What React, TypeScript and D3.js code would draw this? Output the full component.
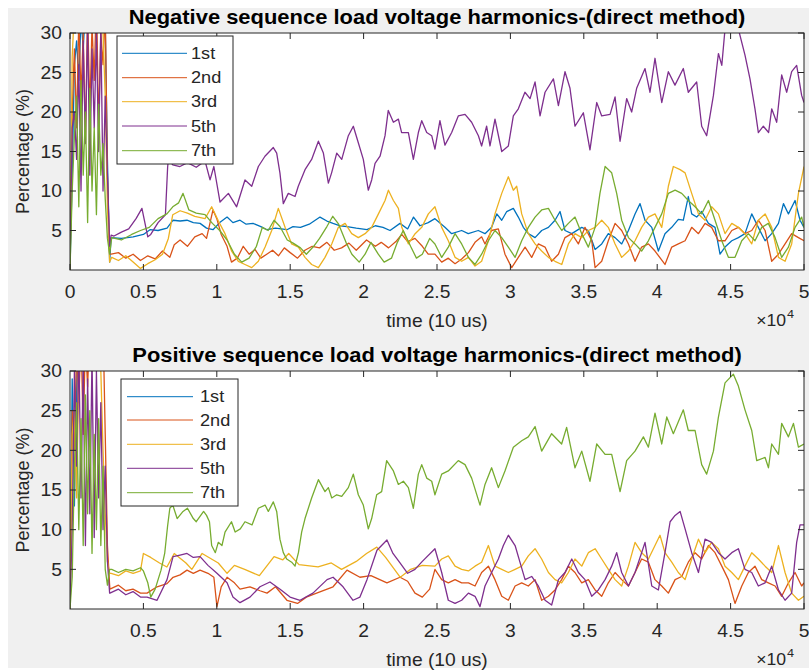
import React from 'react';
import * as d3 from 'd3';

// ---------------- DATA ----------------
const seriesNames = ['1st', '2nd', '3rd', '5th', '7th'];
const seriesColors = ['#0072BD', '#D95319', '#EDB120', '#7E2F8E', '#77AC30'];

const xTicksTop = [0, 5000, 10000, 15000, 20000, 25000, 30000, 35000, 40000, 45000, 50000];
const xTicksBottom = [5000, 10000, 15000, 20000, 25000, 30000, 35000, 40000, 45000, 50000];
const yTicks = [5, 10, 15, 20, 25, 30];

const titleTop = 'Negative sequence load voltage harmonics-(direct method)';
const titleBottom = 'Positive sequence load voltage harmonics-(direct method)';
const yLabel = 'Percentage (%)';
const xLabel = 'time (10 us)';

// start-up transient (both plots share this time grid)
const transientTime = [0, 150, 300, 450, 600, 750, 900, 1050, 1200, 1350, 1500, 1650, 1800, 1950, 2100, 2250, 2400, 2550, 2700];

const negTr1 = [0, 12, 26, 29, 24, 32, 28, 33, 31, 34, 30, 35, 32, 34, 33, 36, 31, 14, 1];
const negTr2 = [0, 20, 28, 18, 32, 22, 30, 16, 33, 20, 31, 24, 35, 18, 30, 26, 33, 12, 2];
const negTr3 = [0, 27, 33, 35, 34, 31, 36, 34, 32, 35, 33, 36, 34, 35, 33, 30, 22, 8, 1];
const negTr5 = [0, 18, 20, 14, 26, 10, 29, 16, 31, 12, 28, 18, 30, 15, 31, 10, 22, 12, 3];
const negTr7 = [0, 10, 17, 22, 8, 24, 12, 20, 6, 23, 10, 18, 7, 21, 12, 16, 9, 4, 2];

const posTr1 = [0, 29, 13, 27, 45, 100, 100, 100, 100, 100, 100, 100, 100, 100, 100, 100, 100, 100, 100];
const posTr2 = [0, 25, 20, 33, 26, 35, 22, 34, 28, 36, 30, 35, 33, 36, 34, 36, 22, 8, 3];
const posTr3 = [0, 22, 25, 14, 30, 33, 35, 34, 36, 33, 35, 36, 34, 35, 30, 20, 12, 6, 4.5];
const posTr5 = [0, 10, 30, 18, 33, 14, 31, 8, 29, 12, 32, 9, 30, 14, 26, 10, 18, 6, 2];
const posTr7 = [0, 4, 18, 26, 10, 24, 8, 27, 12, 25, 7, 22, 10, 24, 8, 18, 5, 3, 5];

// after the transient: [time, percentage]
const neg1: [number, number][] = [[2800,4.1],[3500,4.0],[4300,4.2],[5000,4.5],[5450,5.1],[6000,5.0],[6610,5.3],[7020,6.3],[7500,6.2],[7970,6.3],[8400,6.0],[8860,5.9],[9300,5.3],[9740,5.1],[10200,6.0],[10700,6.7],[11100,6.0],[11580,6.3],[12000,5.8],[12470,5.9],[13000,5.5],[13420,5.1],[14000,5.3],[14780,5.1],[15190,5.5],[15700,5.4],[16300,5.8],[17030,6.7],[17500,6.2],[17920,5.9],[18400,5.6],[18870,5.5],[19500,5.3],[20230,5.1],[20800,5.6],[21320,5.4],[21800,5.0],[22480,5.9],[23000,5.2],[23400,6.7],[23840,5.6],[24400,6.0],[24860,6.5],[25540,5.4],[26000,4.6],[26680,5.0],[27130,4.6],[27810,5.0],[28270,4.6],[28720,5.4],[29070,7.1],[29410,6.3],[29750,7.4],[30200,7.8],[30540,6.7],[30880,5.4],[31220,4.6],[31680,4.1],[32130,5.0],[32590,5.4],[33040,6.3],[33380,7.4],[33720,5.0],[34180,4.6],[34860,5.4],[35310,5.0],[35770,2.6],[36220,3.3],[36670,4.6],[37130,4.1],[37580,3.3],[38040,5.0],[38490,7.1],[38830,8.4],[39170,6.3],[39630,5.4],[40080,2.4],[40530,4.6],[40990,5.4],[41440,6.4],[41780,6.3],[42120,9.3],[42350,7.1],[42690,6.7],[43030,7.4],[43490,5.9],[43940,5.4],[44280,2.0],[44620,2.9],[45080,3.7],[45530,4.1],[45980,4.6],[46440,7.1],[46890,5.4],[47350,3.7],[47800,4.6],[48260,5.9],[48600,8.4],[48940,7.1],[49390,8.8],[49730,6.3],[50000,5.4]];

const neg2: [number, number][] = [[2800,2.0],[3300,2.2],[3800,1.5],[4300,2.0],[4800,1.2],[5300,1.8],[5800,1.4],[6300,2.4],[6800,1.6],[7100,3.2],[7500,3.8],[8000,3.0],[8500,4.2],[9000,4.6],[9300,4.0],[9740,7.6],[10000,6.5],[10300,4.5],[10700,3.0],[11000,1.0],[11400,1.5],[11800,3.0],[12200,2.0],[12600,2.6],[13000,1.5],[13400,2.0],[13800,2.5],[14200,1.8],[14600,2.8],[15000,2.2],[15500,1.5],[16000,2.5],[16500,3.0],[17000,2.8],[17500,3.5],[18000,2.5],[18500,2.8],[19000,3.4],[19500,2.5],[20200,3.8],[20800,3.0],[21200,3.5],[21700,2.8],[22200,3.6],[22600,4.5],[23000,3.6],[23500,4.0],[24000,3.0],[24400,2.0],[24860,2.0],[25320,1.0],[25770,1.5],[26230,0.8],[26680,1.4],[27140,2.2],[27590,3.5],[28040,4.2],[28270,3.3],[28720,5.0],[29180,5.2],[29630,2.0],[30090,0.3],[30540,1.6],[31000,2.9],[31450,1.6],[31900,3.3],[32360,2.9],[32810,1.1],[33270,2.0],[33720,4.1],[34180,4.6],[34630,3.3],[35080,5.4],[35540,3.7],[35770,0.3],[36220,1.1],[36670,3.7],[37130,5.9],[37580,5.0],[38040,3.3],[38490,1.1],[38940,2.9],[39400,3.3],[39850,2.4],[40530,0.7],[40990,2.9],[41440,3.3],[41900,3.7],[42350,5.4],[42810,4.6],[43260,5.9],[43710,5.4],[44170,3.7],[44620,3.7],[45080,5.0],[45530,5.4],[45980,4.6],[46440,5.0],[46890,6.3],[47350,5.0],[47800,1.1],[48260,2.0],[48710,3.3],[49160,4.6],[49620,4.1],[50000,3.7]];

const neg3: [number, number][] = [[2840,1.6],[3300,1.2],[3800,1.8],[4300,1.0],[4800,0.2],[5300,0.8],[5800,1.3],[6300,2.0],[6700,4.0],[7000,7.0],[7500,7.5],[8000,7.2],[8500,6.8],[9200,6.5],[9650,8.0],[10110,6.2],[10560,4.6],[11010,2.4],[11470,1.1],[11920,0.7],[12380,0.3],[12830,1.1],[13290,2.9],[13740,5.0],[14190,7.8],[14650,5.4],[15100,3.3],[15560,2.9],[16010,1.6],[16460,0.7],[16920,0.3],[17370,1.6],[17830,3.3],[18280,5.4],[18740,5.9],[19190,4.6],[19640,4.1],[20100,4.6],[20550,5.4],[21010,7.1],[21460,8.8],[21690,10.1],[22030,8.8],[22370,7.8],[22600,5.4],[23050,3.3],[23510,4.6],[23960,5.4],[24410,7.1],[24860,8.0],[25320,5.4],[25770,3.7],[26230,1.6],[26680,1.1],[27140,1.6],[27590,0.5],[28040,1.1],[28500,3.7],[28950,7.1],[29410,9.7],[29860,11.8],[30200,10.1],[30430,10.6],[30770,7.1],[31220,4.6],[31680,3.3],[32130,2.4],[32590,1.6],[33040,1.1],[33500,0.7],[33950,3.3],[34400,4.6],[34860,4.1],[35310,5.0],[35770,5.4],[36220,6.3],[36670,5.4],[37130,3.3],[37580,1.6],[38040,2.4],[38490,3.7],[38940,5.4],[39400,6.7],[39850,7.1],[40310,5.4],[40760,10.6],[41100,13.1],[41560,12.7],[41900,12.3],[42350,9.7],[42810,7.1],[43260,6.3],[43710,8.0],[44170,7.1],[44620,4.6],[45080,5.9],[45530,5.4],[45980,4.6],[46440,3.3],[46890,6.3],[47350,7.1],[47800,5.4],[48260,1.6],[48710,1.1],[49160,3.3],[49620,9.7],[50000,13.1]];

const neg5: [number, number][] = [[2800,4.4],[3000,4.3],[3500,4.8],[4000,5.2],[4500,6.5],[4900,7.8],[5300,4.2],[5500,4.5],[6000,6.0],[6500,7.0],[6650,13.0],[6700,14.0],[7000,13.3],[7490,13.1],[8000,13.6],[8600,13.0],[9200,13.8],[9540,11.4],[9800,13.1],[10220,8.6],[10790,9.7],[11350,8.0],[11920,11.4],[12380,10.6],[12830,13.1],[13280,14.4],[13850,15.5],[14080,14.8],[14300,12.3],[14530,8.4],[14870,9.7],[15330,9.3],[15550,10.6],[16010,12.7],[16460,14.0],[16920,16.3],[17260,14.8],[17600,11.0],[17820,12.3],[18170,14.8],[18510,14.0],[18960,17.0],[19300,18.2],[19640,16.1],[19980,14.0],[20320,10.1],[20550,11.4],[20780,13.5],[21120,14.4],[21460,17.0],[21680,20.2],[22030,18.7],[22370,19.1],[22590,17.4],[23050,17.4],[23390,14.0],[23730,17.4],[23960,18.9],[24300,17.4],[24640,17.0],[24860,15.3],[25200,18.9],[25540,15.8],[26000,17.4],[26450,19.5],[26910,19.7],[27360,18.7],[27820,17.0],[28040,15.7],[28380,18.2],[28610,15.7],[28950,19.1],[29410,15.0],[29860,15.7],[30200,19.5],[30540,20.4],[30990,22.5],[31340,21.7],[31680,23.8],[32020,19.5],[32360,22.5],[32930,24.2],[33270,20.8],[33720,25.1],[34060,23.0],[34400,18.2],[34970,19.9],[35420,15.2],[35880,21.2],[36220,19.5],[36790,19.7],[37130,21.9],[37470,16.3],[37920,21.7],[38260,20.0],[38600,23.0],[39170,25.5],[39510,22.5],[39850,26.8],[40310,21.2],[40760,25.1],[41210,23.4],[41780,25.5],[42120,22.5],[42690,23.8],[43030,18.2],[43370,17.0],[43830,22.1],[44170,27.4],[44400,25.9],[44620,30.5],[45000,32.0],[45530,30.5],[45980,27.2],[46320,24.2],[46660,20.4],[46890,17.4],[47230,18.2],[47590,17.4],[47800,20.4],[48140,18.7],[48480,24.7],[48820,22.5],[49160,25.1],[49500,25.9],[49840,22.1],[50000,21.2]];

const neg7: [number, number][] = [[2840,4.1],[3500,3.8],[4200,4.5],[4800,5.0],[5400,5.4],[6000,6.5],[6600,7.1],[7000,8.0],[7400,8.5],[7700,9.7],[8100,7.6],[8600,7.2],[9200,7.0],[9700,5.9],[10200,5.0],[10700,3.8],[11200,2.0],[11700,1.0],[12200,1.5],[12700,3.0],[13100,5.4],[13500,5.0],[13900,6.3],[14300,5.5],[14800,3.8],[15200,3.4],[15700,2.8],[16100,2.0],[16600,3.0],[17000,4.0],[17500,5.5],[17900,6.8],[18300,5.8],[18800,3.5],[19200,2.0],[19700,1.0],[20100,2.0],[20500,3.5],[21000,2.0],[21400,1.0],[21900,1.5],[22300,3.5],[22700,5.0],[23200,3.0],[23600,1.5],[24000,2.0],[24500,4.0],[24860,3.3],[25320,1.6],[25770,2.9],[26230,4.6],[26680,3.3],[27140,1.6],[27590,0.7],[28040,2.0],[28500,3.7],[28950,5.0],[29410,4.1],[29860,2.9],[30320,1.6],[30770,3.7],[31220,5.4],[31680,6.7],[32130,7.6],[32590,7.8],[33040,6.3],[33500,5.0],[33950,5.9],[34400,6.7],[34860,4.6],[35310,2.9],[35770,5.4],[36100,9.7],[36450,13.1],[36900,12.3],[37240,9.7],[37580,6.3],[38040,4.1],[38490,3.3],[38940,2.4],[39400,3.7],[39850,5.4],[40310,7.1],[40760,9.7],[41220,10.1],[41670,9.7],[42120,8.8],[42580,8.0],[43030,7.1],[43490,8.8],[43940,6.3],[44400,3.7],[44850,1.6],[45300,1.6],[45760,3.7],[46210,4.6],[46660,3.7],[47120,5.4],[47570,5.9],[48030,4.1],[48480,1.6],[48940,2.9],[49390,5.4],[49840,6.7],[50000,5.4]];

const pos1: [number, number][] = [[2800,100],[50000,100]];

const pos2: [number, number][] = [[2720,2.5],[3300,3.0],[3800,2.3],[4290,2.5],[4800,2.0],[5250,2.0],[5930,2.8],[6610,3.2],[7020,4.0],[7500,4.3],[7970,4.9],[8400,4.5],[8860,4.9],[9400,4.5],[9800,4.0],[10010,0.3],[10300,2.8],[10700,4.0],[11200,3.3],[11580,2.5],[12260,2.8],[12940,2.3],[13420,2.0],[14000,2.8],[14780,1.1],[15500,0.7],[16100,1.5],[16800,2.0],[17920,2.8],[18870,4.9],[19750,4.0],[20500,4.2],[21590,3.3],[22480,4.0],[23000,3.5],[23500,2.0],[24000,1.5],[24500,2.5],[24860,5.0],[25320,3.7],[25770,3.3],[26230,3.7],[26680,3.3],[27140,3.3],[27590,2.9],[28040,4.6],[28500,5.4],[28950,3.7],[29410,1.6],[29860,1.1],[30320,2.9],[30770,3.3],[31220,2.9],[31680,3.7],[32130,1.1],[32590,1.6],[33040,2.4],[33490,3.7],[33950,5.4],[34400,4.6],[34860,3.3],[35310,3.7],[35770,2.4],[36220,1.6],[36670,3.3],[37130,4.6],[37580,3.7],[38040,2.9],[38490,4.6],[38940,6.3],[39400,5.9],[39850,3.7],[40310,2.9],[40760,2.0],[41220,3.7],[41670,4.1],[42120,5.9],[42580,7.1],[43030,6.3],[43490,8.0],[43940,7.1],[44400,5.4],[44850,3.7],[45300,0.7],[45760,2.9],[46210,4.6],[46660,5.4],[47120,3.7],[47570,3.3],[48030,2.9],[48480,1.6],[48940,3.3],[49390,4.6],[49840,2.9],[50000,3.3]];

const pos3: [number, number][] = [[2800,4.5],[3300,4.2],[3800,4.8],[4300,4.5],[4800,4.8],[5000,7.0],[5500,6.5],[6100,5.8],[6600,5.3],[7100,7.0],[7900,5.8],[8300,5.0],[9000,7.0],[10100,5.8],[10700,4.5],[11200,5.5],[11900,5.0],[12900,4.2],[13900,6.6],[14500,6.2],[14900,7.0],[15600,5.6],[16900,5.3],[17800,5.8],[18500,5.0],[19500,6.0],[20200,7.0],[20900,7.8],[21500,6.5],[22500,4.0],[23200,5.0],[24000,5.5],[24860,5.4],[25320,6.3],[25770,6.7],[26230,5.4],[26680,5.0],[27140,4.8],[27590,5.4],[28040,5.9],[28500,8.0],[28950,5.4],[29410,5.0],[29860,4.6],[30320,5.0],[30770,5.4],[31220,6.7],[31680,7.6],[32130,6.3],[32590,4.6],[33040,3.7],[33490,3.3],[33950,4.6],[34400,6.3],[34860,5.4],[35310,7.1],[35770,7.6],[36220,6.3],[36670,5.0],[37130,3.7],[37580,2.9],[38040,5.4],[38490,8.4],[38940,7.1],[39400,6.3],[39850,8.0],[40190,9.3],[40530,7.1],[40990,5.9],[41440,4.6],[41900,3.7],[42350,6.3],[42810,8.8],[43260,7.1],[43710,8.4],[44170,7.6],[44620,5.4],[45080,4.6],[45530,3.7],[45980,5.4],[46440,7.1],[46890,6.3],[47350,5.4],[47800,4.6],[48260,8.0],[48710,4.6],[49160,2.0],[49620,1.1],[50000,1.6]];

const pos5: [number, number][] = [[2720,2.0],[3300,2.5],[3800,1.8],[4290,2.2],[4800,1.5],[5250,1.5],[5930,1.1],[6610,3.7],[7020,6.6],[7500,6.8],[7970,7.0],[8400,6.5],[8860,6.6],[9400,5.5],[10010,4.5],[10700,3.3],[11100,1.5],[11580,0.8],[12260,1.5],[12940,2.8],[13620,3.4],[14310,2.5],[14990,1.5],[15670,1.1],[16550,2.0],[17510,3.7],[17920,4.0],[18600,2.8],[19280,1.1],[19750,1.5],[20230,3.7],[20910,7.4],[21590,8.7],[22000,7.0],[22480,5.8],[23000,4.5],[23500,5.0],[24000,6.0],[24860,7.6],[25320,4.6],[25770,1.1],[26230,0.7],[26680,1.1],[27140,2.0],[27590,1.6],[27930,0.3],[28270,2.9],[28720,4.6],[29180,6.3],[29520,8.0],[29860,9.3],[30320,8.0],[30650,5.9],[31000,3.7],[31450,4.1],[31900,2.9],[32360,1.1],[32810,0.5],[33270,3.7],[33720,4.6],[34180,6.3],[34630,4.6],[35080,3.7],[35540,1.6],[35990,2.4],[36450,3.7],[36900,5.4],[37240,7.1],[37580,4.6],[38040,2.9],[38490,4.6],[38940,7.1],[39170,8.4],[39630,2.9],[40080,2.4],[40530,7.1],[40880,11.0],[41220,11.8],[41560,12.3],[41900,10.1],[42350,7.1],[42810,4.6],[43260,8.8],[43710,8.4],[44170,7.1],[44620,6.3],[45080,7.1],[45530,7.6],[45980,5.0],[46440,4.6],[46890,2.9],[47350,3.3],[47800,5.4],[48260,2.4],[48710,1.1],[49160,2.0],[49500,8.4],[49730,10.6],[50000,10.6]];

const pos7: [number, number][] = [[2840,5.0],[3300,4.6],[3800,5.0],[4300,4.8],[4800,5.2],[5000,4.8],[5300,3.3],[5500,1.5],[5800,2.5],[6200,4.9],[6450,7.0],[6650,10.5],[6800,12.7],[7000,13.1],[7300,11.4],[7700,12.3],[8000,12.7],[8400,11.4],[8600,11.0],[9100,12.3],[9300,11.8],[9500,11.0],[9650,8.0],[9900,7.1],[10100,8.4],[10350,8.0],[10560,9.7],[11000,11.0],[11250,9.7],[11600,10.1],[11920,11.0],[12400,10.6],[12830,12.7],[13290,13.1],[13510,12.3],[13850,13.5],[14080,12.3],[14300,8.8],[14530,7.1],[14760,6.3],[15100,5.9],[15330,5.4],[15560,7.1],[15780,9.7],[16010,11.4],[16460,14.0],[16920,16.3],[17370,14.8],[17600,15.3],[17830,14.0],[18170,14.4],[18510,14.2],[18960,15.3],[19300,17.0],[19640,14.4],[19980,13.1],[20320,10.1],[20550,11.4],[20890,14.4],[21230,14.8],[21570,18.7],[22030,17.4],[22370,15.7],[22710,16.1],[23050,15.3],[23390,12.7],[23730,17.0],[23960,18.2],[24300,16.5],[24640,16.1],[24860,14.4],[25320,17.0],[25770,17.4],[26450,18.7],[26910,18.2],[27360,16.5],[27930,13.1],[28270,15.7],[28720,17.8],[29180,15.3],[29630,17.4],[30200,20.4],[30770,21.2],[31220,21.7],[31680,23.0],[32130,19.9],[32810,22.1],[33490,20.8],[33830,22.9],[34400,17.8],[34860,19.9],[35420,16.1],[35880,20.8],[36450,19.5],[36900,19.5],[37470,14.8],[37920,18.7],[38490,19.9],[39060,21.7],[39400,20.4],[39850,24.7],[40310,20.8],[40650,24.2],[41100,22.1],[41780,25.1],[42120,22.5],[42580,22.5],[43030,18.2],[43370,17.0],[43830,19.9],[44170,24.2],[44620,28.5],[45190,29.6],[45530,28.1],[45980,25.1],[46440,22.5],[46780,18.7],[47350,19.1],[47580,17.8],[47800,20.8],[48260,19.5],[48480,23.4],[48940,21.7],[49280,23.4],[49620,20.4],[50000,20.8]];

// ---------------- LAYOUT ----------------
const W = 809;
const H = 671;
const FONT = '"Liberation Sans", Arial, Helvetica, sans-serif';
const AX = '#262626';
const SX = 1.1; // horizontal text stretch

type Pt = [number, number];

function build(tr: number[], main: Pt[]): Pt[] {
  const a: Pt[] = transientTime.map((t, i) => [t, tr[i]] as Pt);
  return a.concat(main);
}

const negSeries = [build(negTr1, neg1), build(negTr2, neg2), build(negTr3, neg3), build(negTr5, neg5), build(negTr7, neg7)];
const posSeries = [build(posTr1, pos1), build(posTr2, pos2), build(posTr3, pos3), build(posTr5, pos5), build(posTr7, pos7)];

function T(props: { x: number; y: number; size: number; anchor?: string; bold?: boolean; children: React.ReactNode; fill?: string; stretch?: number }) {
  const { x, y, size, anchor = 'middle', bold = false, children, fill = AX, stretch = SX } = props;
  return (
    <text
      transform={`translate(${x},${y}) scale(${stretch},1)`}
      textAnchor={anchor as any}
      dominantBaseline="central"
      fontFamily={FONT}
      fontSize={size}
      fontWeight={bold ? 'bold' : 'normal'}
      fill={fill}
    >
      {children}
    </text>
  );
}

function Panel(props: {
  id: string; top: number; bottom: number; title: string; series: Pt[][]; xTicks: number[];
  legend: { x: number; y: number; w: number; h: number; lineX0: number; lineX1: number; textX: number; rows: number[] };
}) {
  const { id, top, bottom, title, series, xTicks, legend } = props;
  const left = 70, right = 804;
  const x = d3.scaleLinear().domain([0, 50000]).range([left, right]);
  const y = d3.scaleLinear().domain([0, 30]).range([bottom, top]);
  const line = d3.line<Pt>().x(d => x(d[0])).y(d => y(d[1]));
  const tl = 6;
  return (
    <g>
      <defs>
        <clipPath id={id}>
          <rect x={left} y={top} width={right - left} height={bottom - top} />
        </clipPath>
      </defs>
      <rect x={left} y={top} width={right - left} height={bottom - top} fill="#fff" />
      <g clipPath={`url(#${id})`}>
        {series.map((s, i) => (
          <path key={i} d={line(s) || ''} fill="none" stroke={seriesColors[i]} strokeWidth={1.3} strokeLinejoin="round" />
        ))}
      </g>
      {/* box */}
      <rect x={left} y={top} width={right - left} height={bottom - top} fill="none" stroke={AX} strokeWidth={1} />
      {/* x ticks */}
      {xTicks.map(t => (
        <g key={'x' + t}>
          <line x1={x(t)} x2={x(t)} y1={bottom} y2={bottom - tl} stroke={AX} />
          <line x1={x(t)} x2={x(t)} y1={top} y2={top + tl} stroke={AX} />
          <T x={x(t)} y={bottom + 22} size={17.5}>{d3.format('~g')(t / 10000)}</T>
        </g>
      ))}
      {/* y ticks */}
      {yTicks.map(v => (
        <g key={'y' + v}>
          <line x1={left} x2={left + tl} y1={y(v)} y2={y(v)} stroke={AX} />
          <line x1={right} x2={right - tl} y1={y(v)} y2={y(v)} stroke={AX} />
          <T x={left - 8} y={y(v)} size={17.5} anchor="end">{v}</T>
        </g>
      ))}
      {/* labels */}
      <text
        transform={`translate(23,${(top + bottom) / 2}) rotate(-90)`}
        textAnchor="middle" dominantBaseline="central" fontFamily={FONT} fontSize={18} fill={AX}
      >{yLabel}</text>
      <T x={(left + right) / 2} y={bottom + 51} size={17.5}>{xLabel}</T>
      <g>
        <T x={786} y={bottom + 51} size={16} anchor="end">×10</T>
        <T x={787} y={bottom + 44} size={11.5} anchor="start">4</T>
      </g>
      <T x={(left + right) / 2} y={top - 16} size={19.5} bold fill="#000" stretch={1.125}>{title}</T>
      {/* legend */}
      <rect x={legend.x} y={legend.y} width={legend.w} height={legend.h} fill="#fff" stroke={AX} strokeWidth={1} />
      {seriesNames.map((n, i) => (
        <g key={n}>
          <line x1={legend.lineX0} x2={legend.lineX1} y1={legend.rows[i]} y2={legend.rows[i]} stroke={seriesColors[i]} strokeWidth={1} />
          <T x={legend.textX} y={legend.rows[i]} size={16.5} anchor="start">{n}</T>
        </g>
      ))}
    </g>
  );
}

export default function App() {
  return (
    <svg width={W} height={H} style={{ position: 'absolute', left: 0, top: 0, display: 'block' }}>
      <rect x={0} y={0} width={W} height={H} fill="#fff" />
      <rect x={8} y={8} width={W - 8} height={660} fill="#f0f0f0" />
      <Panel
        id="clipTop" top={33} bottom={270} title={titleTop} series={negSeries} xTicks={xTicksTop}
        legend={{ x: 117, y: 36, w: 116, h: 128, lineX0: 122, lineX1: 187, textX: 191, rows: [53.3, 77.7, 101.7, 126, 150.7] }}
      />
      <Panel
        id="clipBottom" top={371} bottom={609} title={titleBottom} series={posSeries} xTicks={xTicksBottom}
        legend={{ x: 121, y: 379, w: 117, h: 127, lineX0: 127, lineX1: 193, textX: 200, rows: [396.7, 420, 444.3, 468.3, 492.7] }}
      />
    </svg>
  );
}
